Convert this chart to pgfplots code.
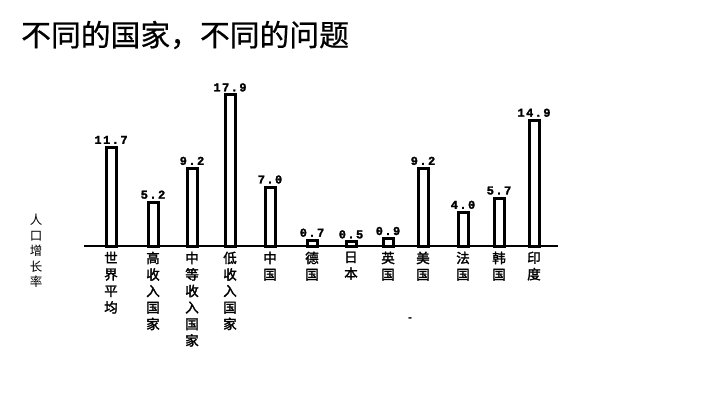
\documentclass[border=0pt]{standalone}
\usepackage{pgfplots}
\pgfplotsset{compat=1.18}
\usepackage{fontspec}
\setmainfont{Liberation Sans}
\newfontfamily\cjk{Noto Sans CJK SC}
\newfontfamily\cjkb[FakeBold=2]{Noto Sans CJK SC}
\newfontfamily\cjkt[FakeBold=0.6]{Noto Sans CJK SC}
\newfontfamily\numfont[LetterSpace=12, BoldFeatures={FakeBold=2}]{Liberation Mono}

\begin{document}
\begin{tikzpicture}[x=1pt,y=1pt]
\useasboundingbox (0,0) rectangle (720,405);
% title
\node[anchor=west, inner sep=0pt, font=\cjkt\fontsize{29.8}{29.8}\selectfont] at (21,370) {不同的国家，不同的问题};
% vertical axis caption
\node[align=center, inner sep=0pt, font=\cjk\fontsize{12.5}{15.5}\selectfont] at (36,154) {人\\口\\增\\长\\率};
% stray mark under the chart
\node[inner sep=0pt, font=\bfseries\fontsize{12}{12}\selectfont] at (410,85) {-};
\begin{axis}[
  at={(84,188)}, anchor=south west,
  scale only axis, width=474pt, height=160.5pt,
  xmin=84, xmax=558, ymin=0, ymax=19,
  axis x line=bottom, axis y line=none,
  x axis line style={-, line width=2.6pt},
  major tick length=0pt,
  xtick={111,153,192,230,270,312,351,388,423,463,499,534},
  xticklabels={{世\\界\\平\\均},{高\\收\\入\\国\\家},{中\\等\\收\\入\\国\\家},{低\\收\\入\\国\\家},{中\\国},{德\\国},{日\\本},{英\\国},{美\\国},{法\\国},{韩\\国},{印\\度}},
  xticklabel style={font=\cjkb\fontsize{13.5}{16.5}\selectfont, align=center, anchor=north, yshift=-2pt},
  ybar, bar width=10pt,
  nodes near coords={\pgfmathprintnumber[fixed,fixed zerofill,precision=1,assume math mode=true]{\pgfplotspointmeta}},
  every node near coord/.append style={font=\numfont\bfseries\fontsize{12}{12}\selectfont, inner sep=1pt, yshift=1pt},
  clip=false,
]
\addplot[draw=black, fill=white, line width=3pt] coordinates {
  (111,11.7) (153,5.2) (192,9.2) (230,17.9) (270,7.0) (312,0.7)
  (351,0.5) (388,0.9) (423,9.2) (463,4.0) (499,5.7) (534,14.9)
};
\end{axis}
\end{tikzpicture}
\end{document}
